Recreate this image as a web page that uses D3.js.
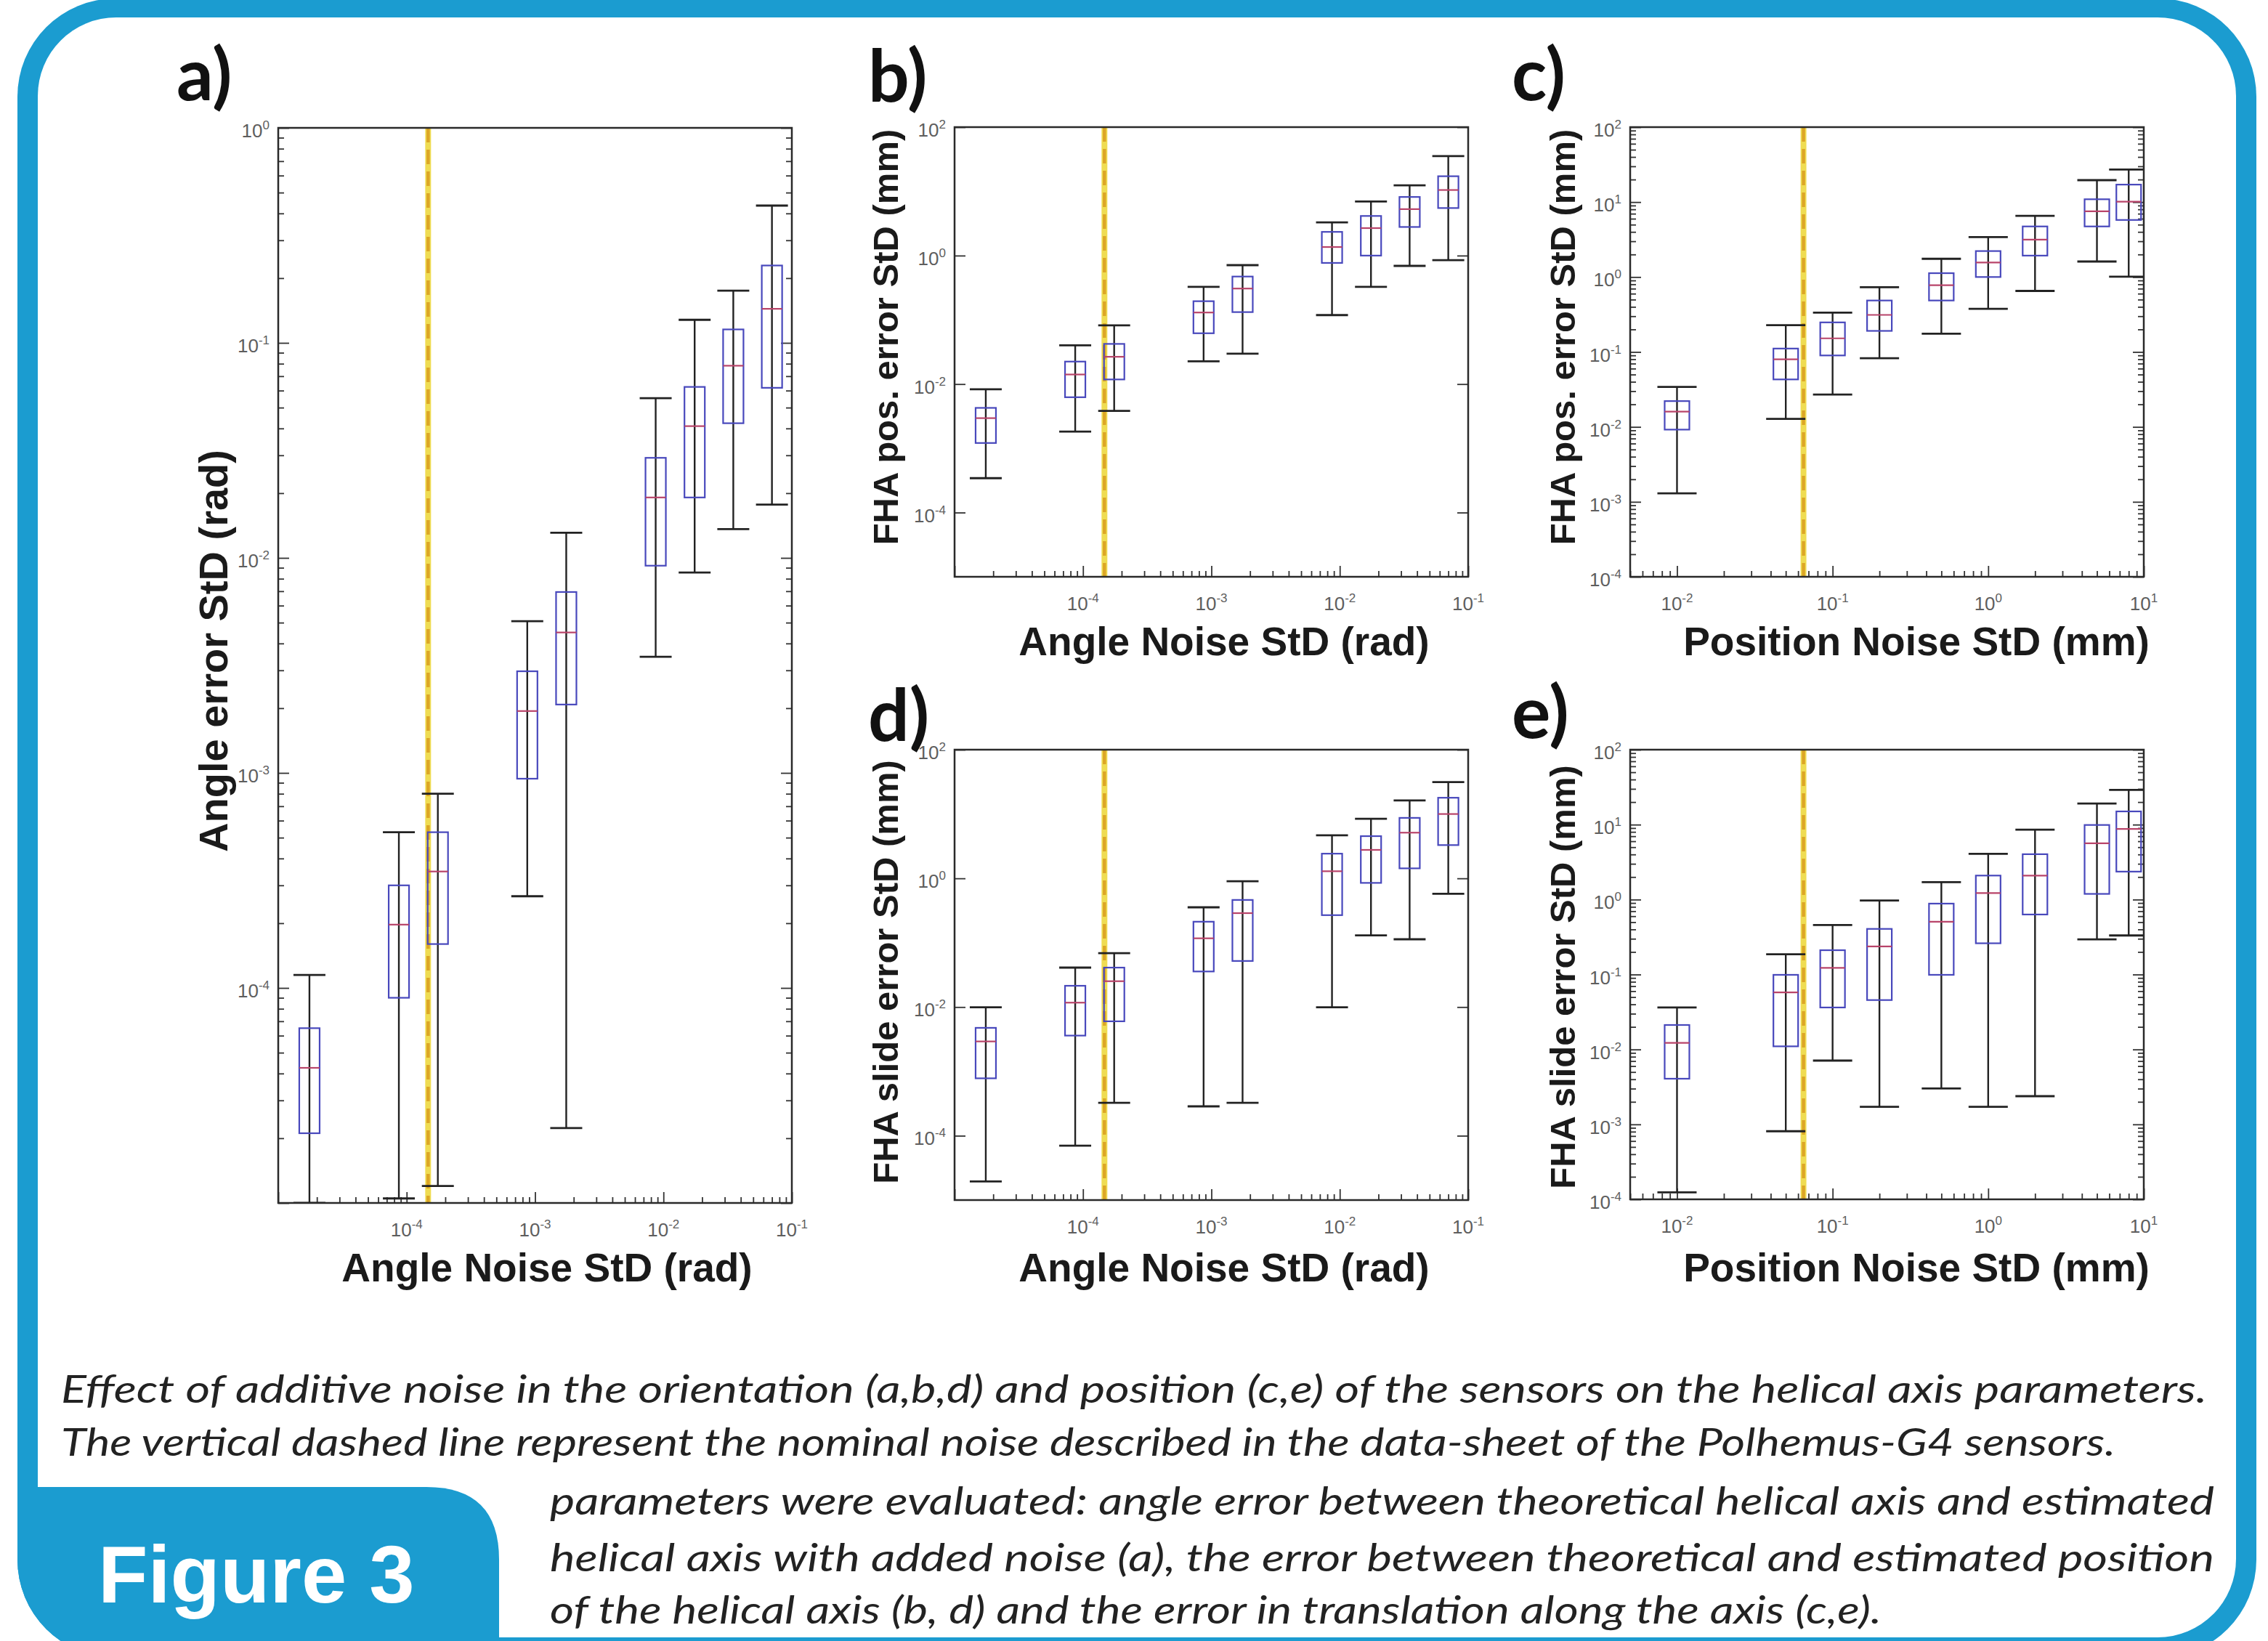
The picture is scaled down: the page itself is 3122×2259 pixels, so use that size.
<!DOCTYPE html>
<html>
<head>
<meta charset="utf-8">
<script src="https://cdn.jsdelivr.net/npm/d3@7"></script>
<style>
  body { margin: 0; background: #fff; }
</style>
</head>
<body>
<div id="chart"></div>
<script>
// Noise levels on the x axes
var angleNoise = [1.75e-5, 8.7e-5, 1.75e-4, 8.7e-4, 1.75e-3, 8.7e-3, 1.75e-2, 3.5e-2, 7.0e-2];
var positionNoise = [0.01, 0.05, 0.1, 0.2, 0.5, 1, 2, 5, 8];

// Nominal noise of the sensors (dashed line)
var nominalAngle = 1.47e-4;
var nominalPosition = 0.065;

// Each row: [lower whisker, q1, median, q3, upper whisker]
var angleError = [
  [1.0e-5, 2.11e-5, 4.25e-5, 6.5e-5, 1.15e-4],
  [1.05e-5, 9.0e-5, 1.97e-4, 3.0e-4, 5.3e-4],
  [1.2e-5, 1.6e-4, 3.48e-4, 5.3e-4, 8.0e-4],
  [2.67e-4, 9.4e-4, 1.94e-3, 2.97e-3, 5.08e-3],
  [2.23e-5, 2.08e-3, 4.5e-3, 6.94e-3, 1.31e-2],
  [3.47e-3, 9.2e-3, 1.91e-2, 2.92e-2, 5.53e-2],
  [8.55e-3, 1.91e-2, 4.1e-2, 6.24e-2, 0.128],
  [1.36e-2, 4.23e-2, 7.83e-2, 0.1155, 0.175],
  [1.77e-2, 6.18e-2, 0.144, 0.229, 0.435]
];

var posErrorAngle = [
  [3.43e-4, 1.21e-3, 2.95e-3, 4.26e-3, 8.3e-3],
  [1.82e-3, 6.24e-3, 1.41e-2, 2.24e-2, 4.0e-2],
  [3.83e-3, 1.18e-2, 2.66e-2, 4.22e-2, 8.2e-2],
  [2.26e-2, 6.18e-2, 0.130, 0.195, 0.327],
  [2.97e-2, 0.132, 0.307, 0.472, 0.71],
  [0.1185, 0.769, 1.36, 2.34, 3.29],
  [0.327, 1.0, 2.68, 4.14, 6.95],
  [0.692, 2.79, 5.29, 8.18, 12.4],
  [0.848, 5.5, 10.5, 17.2, 35.4]
];

var posErrorPosition = [
  [1.3e-3, 9.2e-3, 1.6e-2, 2.21e-2, 3.41e-2],
  [1.28e-2, 4.3e-2, 7.98e-2, 0.111, 0.228],
  [2.7e-2, 8.98e-2, 0.152, 0.248, 0.335],
  [8.26e-2, 0.191, 0.312, 0.486, 0.731],
  [0.175, 0.486, 0.776, 1.125, 1.75],
  [0.377, 1.0, 1.56, 2.22, 3.41],
  [0.652, 1.93, 3.15, 4.73, 6.56],
  [1.61, 4.73, 7.53, 10.9, 19.6],
  [1.01, 5.77, 10.1, 17.1, 27.2]
];

var slideErrorAngle = [
  [1.95e-5, 7.8e-4, 2.92e-3, 4.75e-3, 9.9e-3],
  [7.0e-5, 3.6e-3, 1.17e-2, 2.14e-2, 4.1e-2],
  [3.24e-4, 6.0e-3, 2.52e-2, 4.1e-2, 6.87e-2],
  [2.86e-4, 3.57e-2, 0.117, 0.212, 0.355],
  [3.24e-4, 5.2e-2, 0.288, 0.462, 0.902],
  [9.9e-3, 0.268, 1.29, 2.42, 4.66],
  [0.13, 0.85, 2.77, 4.53, 8.45],
  [0.113, 1.43, 5.13, 8.71, 16.3],
  [0.577, 3.29, 10.0, 17.9, 31.3]
];

var slideErrorPosition = [
  [1.24e-4, 4.07e-3, 1.225e-2, 2.12e-2, 3.63e-2],
  [8.1e-4, 1.1e-2, 5.78e-2, 9.9e-2, 0.1866],
  [7.1e-3, 3.63e-2, 0.1228, 0.211, 0.458],
  [1.72e-3, 4.56e-2, 0.237, 0.406, 0.972],
  [3.02e-3, 9.9e-2, 0.505, 0.883, 1.71],
  [1.72e-3, 0.261, 1.22, 2.09, 4.08],
  [2.38e-3, 0.632, 2.09, 4.03, 8.57],
  [0.294, 1.19, 5.63, 9.89, 19.1],
  [0.332, 2.36, 8.77, 15.0, 29.0]
];

// Tick label exponents
var angleXTicks = [-4, -3, -2, -1];
var positionXTicks = [-2, -1, 0, 1];
var aYTicks = [0, -1, -2, -3, -4];
var angleYTicks = [2, 0, -2, -4];
var positionYTicks = [2, 1, 0, -1, -2, -3, -4];

var captionLines = [
  "Effect of additive noise in the orientation (a,b,d) and position (c,e) of the sensors on the helical axis parameters.",
  "The vertical dashed line represent the nominal noise described in the data-sheet of the Polhemus-G4 sensors.",
  "parameters were evaluated: angle error between theoretical helical axis and estimated",
  "helical axis with added noise (a), the error between theoretical and estimated position",
  "of the helical axis (b, d) and the error in translation along the axis (c,e)."
];

var blue = "#1b9cd0";
var tickFont = "'Liberation Sans Narrow', 'Arial Narrow', 'Liberation Sans', Arial, sans-serif";
var titleFont = "'Liberation Sans', Arial, sans-serif";

var svg = d3.select("#chart")
  .append("svg")
  .attr("width", 3122)
  .attr("height", 2259);

svg.append("rect")
  .attr("width", 3122)
  .attr("height", 2259)
  .attr("fill", "#fff");

// Outer rounded frame: blue shape with a white inner shape
svg.append("clipPath").attr("id", "frame-clip")
  .append("rect")
  .attr("x", 24).attr("y", -2)
  .attr("width", 3082).attr("height", 2284)
  .attr("rx", 135);

svg.append("rect")
  .attr("x", 24).attr("y", -2)
  .attr("width", 3082).attr("height", 2284)
  .attr("rx", 135)
  .attr("fill", blue);

svg.append("rect")
  .attr("x", 52).attr("y", 24)
  .attr("width", 3026).attr("height", 2230)
  .attr("rx", 108)
  .attr("fill", "#fff");

// Panel settings (layout only)
var panels = [
  { id: "a", left: 383, top: 176, right: 1090, bottom: 1656,
    xDomain: [1e-5, 1e-1], yDomain: [1e-5, 1], xs: angleNoise, rows: angleError,
    nominal: nominalAngle, xLab: angleXTicks, yLab: aYTicks, yMinor: true,
    boxW: 28, capW: 44, xTitle: "Angle Noise StD (rad)", yTitle: "Angle error StD (rad)",
    xt: [753, 1764], yt: [293, 896], ySize: 56, letter: [243, 138] },
  { id: "b", left: 1314, top: 175, right: 2021, bottom: 794,
    xDomain: [1e-5, 1e-1], yDomain: [1e-5, 100], xs: angleNoise, rows: posErrorAngle,
    nominal: nominalAngle, xLab: angleXTicks, yLab: angleYTicks, yMinor: false,
    boxW: 28, capW: 44, xTitle: "Angle Noise StD (rad)", yTitle: "FHA pos. error StD (mm)",
    xt: [1685, 902], yt: [1218, 464], ySize: 49, letter: [1195, 140] },
  { id: "c", left: 2244, top: 175, right: 2951, bottom: 794,
    xDomain: [0.005, 10], yDomain: [1e-4, 100], xs: positionNoise, rows: posErrorPosition,
    nominal: nominalPosition, xLab: positionXTicks, yLab: positionYTicks, yMinor: true,
    boxW: 34, capW: 54, xTitle: "Position Noise StD (mm)", yTitle: "FHA pos. error StD (mm)",
    xt: [2638, 902], yt: [2150, 464], ySize: 49, letter: [2081, 138] },
  { id: "d", left: 1314, top: 1032, right: 2021, bottom: 1652,
    xDomain: [1e-5, 1e-1], yDomain: [1e-5, 100], xs: angleNoise, rows: slideErrorAngle,
    nominal: nominalAngle, xLab: angleXTicks, yLab: angleYTicks, yMinor: false,
    boxW: 28, capW: 44, xTitle: "Angle Noise StD (rad)", yTitle: "FHA slide error StD (mm)",
    xt: [1685, 1764], yt: [1218, 1338], ySize: 49, letter: [1195, 1020] },
  { id: "e", left: 2244, top: 1032, right: 2951, bottom: 1651,
    xDomain: [0.005, 10], yDomain: [1e-4, 100], xs: positionNoise, rows: slideErrorPosition,
    nominal: nominalPosition, xLab: positionXTicks, yLab: positionYTicks, yMinor: true,
    boxW: 34, capW: 54, xTitle: "Position Noise StD (mm)", yTitle: "FHA slide error StD (mm)",
    xt: [2638, 1764], yt: [2150, 1345], ySize: 49, letter: [2081, 1016] }
];

function isPow10(v) {
  var l = Math.log10(v);
  return Math.abs(l - Math.round(l)) < 1e-6;
}

function powLabel(sel, e) {
  sel.append("tspan").text("10");
  sel.append("tspan")
    .attr("dy", -11)
    .attr("font-size", 17)
    .text(String(e));
}

function styleAxis(a) {
  a.select(".domain").remove();
  a.selectAll("line").attr("stroke", "#333").attr("stroke-width", 1.8);
}

panels.forEach(function(p) {
  var w = p.right - p.left;
  var h = p.bottom - p.top;

  var x = d3.scaleLog().domain(p.xDomain).range([0, w]);
  var y = d3.scaleLog().domain(p.yDomain).range([h, 0]);

  var g = svg.append("g").attr("transform", `translate(${p.left},${p.top})`);

  g.append("clipPath").attr("id", "clip-" + p.id)
    .append("rect").attr("width", w).attr("height", h);

  // ticks, pointing inward
  var xAll = x.ticks();
  var xMinor = xAll.filter(d => !isPow10(d));
  var xMajor = xAll.filter(isPow10);
  var yAll = y.ticks();
  var yMinor = p.yMinor ? yAll.filter(d => !isPow10(d)) : [];
  var yMajor = p.yMinor ? yAll.filter(isPow10) : p.yLab.map(e => Math.pow(10, e));

  styleAxis(g.append("g").attr("transform", `translate(0,${h})`)
    .call(d3.axisBottom(x).tickValues(xMinor).tickSize(-8).tickFormat("")));
  styleAxis(g.append("g").attr("transform", `translate(0,${h})`)
    .call(d3.axisBottom(x).tickValues(xMajor).tickSize(-15).tickFormat("")));
  styleAxis(g.append("g")
    .call(d3.axisLeft(y).tickValues(yMinor).tickSize(-8).tickFormat("")));
  styleAxis(g.append("g")
    .call(d3.axisLeft(y).tickValues(yMajor).tickSize(-15).tickFormat("")));
  styleAxis(g.append("g").attr("transform", `translate(${w},0)`)
    .call(d3.axisRight(y).tickValues(yMinor).tickSize(-8).tickFormat("")));
  styleAxis(g.append("g").attr("transform", `translate(${w},0)`)
    .call(d3.axisRight(y).tickValues(yMajor).tickSize(-15).tickFormat("")));

  // tick labels
  p.xLab.forEach(function(e) {
    var t = g.append("text")
      .attr("x", x(Math.pow(10, e)))
      .attr("y", h + 46)
      .attr("text-anchor", "middle")
      .attr("font-family", tickFont)
      .attr("font-size", 26)
      .attr("fill", "#5e5e5e");
    powLabel(t, e);
  });
  p.yLab.forEach(function(e) {
    var t = g.append("text")
      .attr("x", -12)
      .attr("y", y(Math.pow(10, e)) + 13)
      .attr("text-anchor", "end")
      .attr("font-family", tickFont)
      .attr("font-size", 26)
      .attr("fill", "#5e5e5e");
    powLabel(t, e);
  });

  var plot = g.append("g").attr("clip-path", `url(#clip-${p.id})`);

  // nominal noise line
  plot.append("line")
    .attr("x1", x(p.nominal)).attr("x2", x(p.nominal))
    .attr("y1", 0).attr("y2", h)
    .attr("stroke", "#efdc52")
    .attr("stroke-width", 8);
  plot.append("line")
    .attr("x1", x(p.nominal)).attr("x2", x(p.nominal))
    .attr("y1", 0).attr("y2", h)
    .attr("stroke", "#dca626")
    .attr("stroke-width", 4.5)
    .attr("stroke-dasharray", "20 10");

  // box plots
  var boxes = plot.selectAll(".bx")
    .data(p.rows)
    .enter()
    .append("g")
    .attr("class", "bx")
    .attr("transform", (d, i) => `translate(${x(p.xs[i])},0)`);

  boxes.append("line")
    .attr("y1", d => y(d[0])).attr("y2", d => y(d[4]))
    .attr("stroke", "#222").attr("stroke-width", 2.4);

  boxes.append("line")
    .attr("x1", -p.capW / 2).attr("x2", p.capW / 2)
    .attr("y1", d => y(d[0])).attr("y2", d => y(d[0]))
    .attr("stroke", "#222").attr("stroke-width", 2.8);

  boxes.append("line")
    .attr("x1", -p.capW / 2).attr("x2", p.capW / 2)
    .attr("y1", d => y(d[4])).attr("y2", d => y(d[4]))
    .attr("stroke", "#222").attr("stroke-width", 2.8);

  boxes.append("rect")
    .attr("x", -p.boxW / 2)
    .attr("width", p.boxW)
    .attr("y", d => y(d[3]))
    .attr("height", d => y(d[1]) - y(d[3]))
    .attr("fill", "none")
    .attr("stroke", "#4848bc")
    .attr("stroke-width", 2.2);

  boxes.append("line")
    .attr("x1", -p.boxW / 2).attr("x2", p.boxW / 2)
    .attr("y1", d => y(d[2])).attr("y2", d => y(d[2]))
    .attr("stroke", "#b8446a").attr("stroke-width", 2.2);

  // plot frame
  g.append("rect")
    .attr("width", w).attr("height", h)
    .attr("fill", "none")
    .attr("stroke", "#2a2a2a")
    .attr("stroke-width", 2.5);

  // axis titles
  svg.append("text")
    .attr("x", p.xt[0]).attr("y", p.xt[1])
    .attr("text-anchor", "middle")
    .attr("font-family", titleFont)
    .attr("font-weight", "bold")
    .attr("font-size", 55)
    .attr("fill", "#1a1a1a")
    .text(p.xTitle);

  svg.append("text")
    .attr("transform", `translate(${p.yt[0]},${p.yt[1]}) rotate(-90)`)
    .attr("dy", "0.36em")
    .attr("text-anchor", "middle")
    .attr("font-family", titleFont)
    .attr("font-weight", "bold")
    .attr("font-size", p.ySize)
    .attr("fill", "#1a1a1a")
    .text(p.yTitle);

  // panel letter
  svg.append("text")
    .attr("x", p.letter[0]).attr("y", p.letter[1])
    .attr("font-family", "Lato, 'Open Sans', sans-serif")
    .attr("font-weight", "bold")
    .attr("font-size", 100)
    .attr("fill", "#111")
    .text(p.id + ")");
});

// Figure tab at the bottom left, following the frame's rounded corner
svg.append("path")
  .attr("clip-path", "url(#frame-clip)")
  .attr("d", "M0,2300 L0,2047 L587,2047 Q687,2047 687,2147 L687,2300 Z")
  .attr("fill", blue);

svg.append("text")
  .attr("x", 135).attr("y", 2206)
  .attr("font-family", titleFont)
  .attr("font-weight", "bold")
  .attr("font-size", 112)
  .attr("fill", "#fff")
  .text("Figure 3");

// Caption
var captionPos = [
  [84, 1931, 2954],
  [84, 2004, 2828],
  [757, 2085, 2291],
  [757, 2163, 2291],
  [757, 2235, 1833]
];

svg.selectAll(".caption")
  .data(captionLines)
  .enter()
  .append("text")
  .attr("class", "caption")
  .attr("x", (d, i) => captionPos[i][0])
  .attr("y", (d, i) => captionPos[i][1])
  .attr("textLength", (d, i) => captionPos[i][2])
  .attr("lengthAdjust", "spacingAndGlyphs")
  .attr("font-family", "Lato, 'Open Sans', sans-serif")
  .attr("font-style", "italic")
  .attr("font-size", 52)
  .attr("fill", "#222")
  .text(d => d);
</script>
</body>
</html>
